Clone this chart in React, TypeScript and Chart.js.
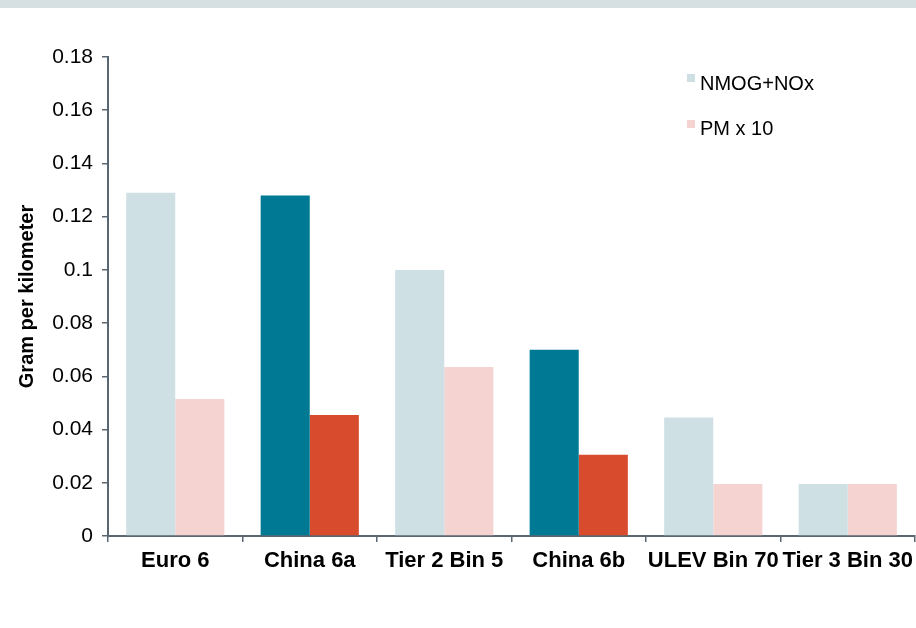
import React, { useEffect, useRef } from "react";
import { Chart, registerables } from "chart.js";

Chart.register(...registerables);

const categories = ["Euro 6", "China 6a", "Tier 2 Bin 5", "China 6b", "ULEV Bin 70", "Tier 3 Bin 30"];
const nmogNox = [0.129, 0.128, 0.1, 0.07, 0.0445, 0.0195];
const pmX10 = [0.0515, 0.0455, 0.0635, 0.0305, 0.0195, 0.0195];
const highlighted = [false, true, false, true, false, false];
const yTicks = [0, 0.02, 0.04, 0.06, 0.08, 0.1, 0.12, 0.14, 0.16, 0.18];

const LIGHT_BLUE = "#cfe0e5";
const DARK_BLUE = "#007a94";
const LIGHT_RED = "#f5d3d1";
const DARK_RED = "#d84b2c";
const AXIS = "#5b6770";
const FONT = "'Liberation Sans', Arial, sans-serif";

export default function App() {
  const ref = useRef<HTMLCanvasElement | null>(null);

  useEffect(() => {
    document.body.style.margin = "0";
    const ctx = ref.current!.getContext("2d")!;
    const chart = new Chart(ctx, {
      type: "bar",
      data: {
        labels: categories,
        datasets: [
          {
            label: "NMOG+NOx",
            data: nmogNox,
            backgroundColor: highlighted.map((h) => (h ? DARK_BLUE : LIGHT_BLUE)),
            borderWidth: 0,
            categoryPercentage: 0.73,
            barPercentage: 1,
          },
          {
            label: "PM x 10",
            data: pmX10,
            backgroundColor: highlighted.map((h) => (h ? DARK_RED : LIGHT_RED)),
            borderWidth: 0,
            categoryPercentage: 0.73,
            barPercentage: 1,
          },
        ],
      },
      options: {
        animation: false,
        responsive: false,
        maintainAspectRatio: false,
        layout: { padding: { top: 57, right: 1, left: 0, bottom: 0 } },
        plugins: { legend: { display: false }, tooltip: { enabled: false } },
        scales: {
          x: {
            grid: {
              display: true,
              drawOnChartArea: false,
              drawTicks: true,
              tickLength: 6,
              color: AXIS,
              lineWidth: 1.5,
              offset: true,
            },
            border: { display: true, color: AXIS, width: 2 },
            ticks: {
              color: "#000",
              font: { family: FONT, size: 22, weight: "bold" },
              padding: 6,
              maxRotation: 0,
              autoSkip: false,
            },
            afterFit: (s: any) => {
              s.height = 628 - 536;
              s.paddingLeft = 0;
              s.paddingRight = 0;
            },
          },
          y: {
            min: 0,
            max: 0.18,
            afterBuildTicks: (s: any) => {
              s.ticks = yTicks.map((v) => ({ value: v }));
            },
            grid: {
              display: true,
              drawOnChartArea: false,
              drawTicks: true,
              tickLength: 6,
              color: AXIS,
              lineWidth: 1.5,
            },
            border: { display: true, color: AXIS, width: 2 },
            ticks: {
              color: "#000",
              font: { family: FONT, size: 21 },
              padding: 9,
              callback: (v: any) => String(Math.round(Number(v) * 100) / 100),
            },
            title: {
              display: true,
              text: "Gram per kilometer",
              color: "#000",
              font: { family: FONT, size: 20, weight: "bold" },
              padding: { top: 15, bottom: 0 },
            },
            afterFit: (s: any) => {
              s.width = 108;
            },
          },
        },
      },
    });
    return () => chart.destroy();
  }, []);

  const legendItem = (color: string, text: string, top: number, sqTop: number) => (
    <div style={{ position: "absolute", left: 687, top, height: 24 }}>
      <div style={{ position: "absolute", left: 0, top: sqTop, width: 8, height: 8, background: color }} />
      <span
        style={{
          position: "absolute",
          left: 13,
          top: 0,
          whiteSpace: "nowrap",
          fontFamily: FONT,
          fontSize: 20,
          color: "#000",
          lineHeight: "22px",
        }}
      >
        {text}
      </span>
    </div>
  );

  return (
    <div style={{ position: "relative", width: 916, height: 628, background: "#fff", overflow: "hidden" }}>
      <div style={{ position: "absolute", left: 0, top: 0, width: 916, height: 8, background: "#d6dfe1" }} />
      <canvas ref={ref} width={916} height={628} style={{ position: "absolute", left: 0, top: 0, width: 916, height: 628 }} />
      {legendItem(LIGHT_BLUE, "NMOG+NOx", 72, 2)}
      {legendItem(LIGHT_RED, "PM x 10", 117, 3)}
    </div>
  );
}
